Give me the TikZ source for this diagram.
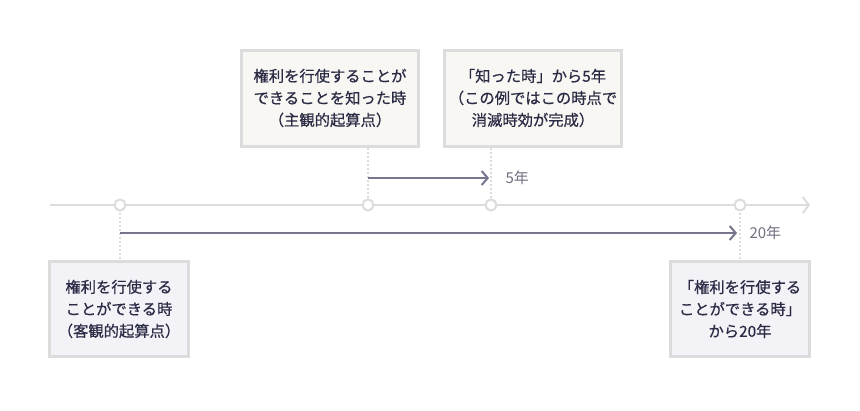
\documentclass[tikz,border=0pt]{standalone}
\usepackage{fontspec}
\setmainfont{Noto Sans CJK JP}
\newfontfamily\medfont[RawFeature={embolden=0.6}]{Noto Sans CJK JP}
\usetikzlibrary{positioning, arrows.meta}

\definecolor{linegray}{HTML}{DCDCDC}
\definecolor{boxgray}{HTML}{DCDCDC}
\definecolor{topfill}{HTML}{F8F7F3}
\definecolor{botfill}{HTML}{F2F2F7}
\definecolor{spancol}{HTML}{75758D}
\definecolor{ink}{HTML}{2B2B45}
\definecolor{labelcol}{HTML}{6E6E80}

\begin{document}
\begin{tikzpicture}[x=1pt, y=-1pt,  % Pixel-like units, y grows downwards
    box/.style={draw=boxgray, line width=3pt, align=center, inner sep=0pt, text=ink, font=\medfont\fontsize{15.3}{22}\selectfont},
    topbox/.style={box, fill=topfill, minimum width=177pt, minimum height=96pt},
    botbox/.style={box, fill=botfill, minimum width=139pt, minimum height=95pt},
    tick/.style={circle, draw=linegray, fill=white, line width=2pt, minimum size=11pt, inner sep=0pt},
    guide/.style={draw=linegray, line width=2pt, dash pattern=on 2pt off 2pt},
    span/.style={draw=spancol, line width=2.5pt, -{Straight Barb[length=6pt, width=14pt, line width=2pt]}},
    spanlabel/.style={anchor=west, text=labelcol, font=\fontsize{15}{16}\selectfont}]
    \useasboundingbox (0,0) rectangle (860,410);  % Fixes the page size

    % Timeline
    \coordinate (tstart) at (50,205);  % Left end of the timeline
    \coordinate (tend) at (810,205);  % Right end of the timeline
    \draw [draw=linegray, line width=2pt, -{Straight Barb[length=6pt, width=16pt, line width=2pt]}] (tstart) -- (tend);  % Draws the timeline

    % Boxes
    \node (know) [topbox] at (330,98) {権利を行使することが\\できることを知った時\\（主観的起算点）};  % Subjective starting point
    \node (fiveyr) [topbox, right=23pt of know] {「知った時」から5年\\（この例ではこの時点で\\消滅時効が完成）};  % Five years after knowing
    \node (can) [botbox] at (119,309) {権利を行使する\\ことができる時\\（客観的起算点）};  % Objective starting point
    \node (twentyyr) [botbox] at (740,309) {「権利を行使する\\ことができる時」\\から20年};  % Twenty years after

    % Ticks on the timeline
    \coordinate (p1) at (120,205);  % Objective start
    \coordinate (p2) at (368,205);  % Subjective start
    \coordinate (p3) at (491,205);  % Five years
    \coordinate (p4) at (740,205);  % Twenty years

    % Guides
    \draw [guide] (know.south -| p2) -- (p2);  % Guide from the first top box
    \draw [guide] (fiveyr.south -| p3) -- (p3);  % Guide from the second top box
    \draw [guide] (p1) -- (can.north -| p1);  % Guide to the left bottom box
    \draw [guide] (p4) -- (twentyyr.north -| p4);  % Guide to the right bottom box

    \foreach \p in {p1, p2, p3, p4}
        \node (t\p) [tick] at (\p) {};  % Draws a circle on each tick

    % Spans
    \coordinate (s5a) at (368,178);  % Start of the five year span
    \coordinate (s5b) at (489,178);  % End of the five year span
    \coordinate (s20a) at (120,233);  % Start of the twenty year span
    \coordinate (s20b) at (737,233);  % End of the twenty year span
    \draw [span] (s5a) -- (s5b);  % Five year arrow
    \draw [span] (s20a) -- (s20b);  % Twenty year arrow
    \node (l5) [spanlabel] at (502,178) {5年};  % Label of the five year span
    \node (l20) [spanlabel] at (746,233) {20年};  % Label of the twenty year span
\end{tikzpicture}
\end{document}
